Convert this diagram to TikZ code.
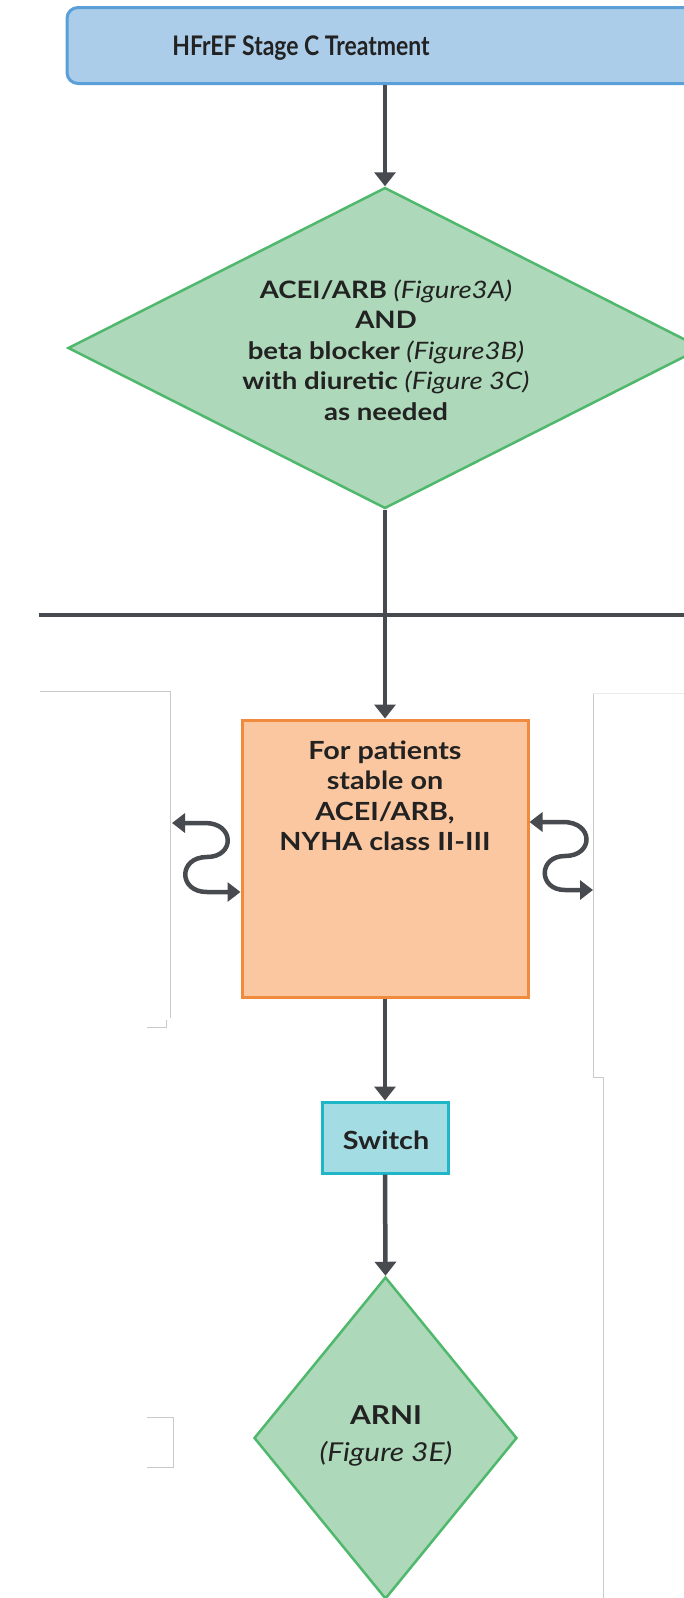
\documentclass[tikz,border=0pt]{standalone}
\usepackage{fontspec}
\setmainfont{Lato}
\newfontfamily\widefont{Lato}[FakeStretch=1.15]
\newfontfamily\titlefont{Lato}[FakeStretch=0.85]
\usetikzlibrary{arrows.meta,shapes.geometric}
\definecolor{conn}{HTML}{474A4F}
\definecolor{bluefill}{HTML}{ABCDE9}
\definecolor{blueline}{HTML}{5A9FD8}
\definecolor{greenfill}{HTML}{ADD8B9}
\definecolor{greenline}{HTML}{4FB86C}
\definecolor{orangefill}{HTML}{FBC7A0}
\definecolor{orangeline}{HTML}{F08A3C}
\definecolor{tealfill}{HTML}{A4DCE3}
\definecolor{tealline}{HTML}{1FB6C8}
\definecolor{thingray}{HTML}{CACACA}
\definecolor{txt}{HTML}{222222}
\begin{document}
\begin{tikzpicture}[x=1pt,y=-1pt,
  titlebox/.style={draw=blueline,fill=bluefill,line width=3pt,rounded corners=11pt,inner sep=0pt},
  greendiamond/.style={diamond,draw=greenline,fill=greenfill,line width=2.5pt,inner sep=0pt},
  orangebox/.style={draw=orangeline,fill=orangefill,line width=3pt,inner sep=0pt},
  tealbox/.style={draw=tealline,fill=tealfill,line width=3pt,inner sep=0pt},
  label text/.style={text=txt,align=center,inner sep=0pt,font=\widefont\fontsize{24}{30.5}\selectfont\bfseries},
  flow/.style={draw=conn,line width=4.5pt,-{Triangle[width=21pt,length=14pt]}},
  plainline/.style={draw=conn,line width=4.5pt},
  wave/.style={draw=conn,line width=4.5pt,{Triangle[width=19pt,length=13pt]}-{Triangle[width=19pt,length=13pt]}},
  guide/.style={draw=thingray,line width=1pt}
]
\useasboundingbox (0,0) rectangle (684,1598);
\clip (0,0) rectangle (684,1598);

% thin gray guide lines
\draw[guide] (40,691) -- (170,691) -- (170,1018);
\draw[guide] (147,1027) -- (166,1027) -- (166,1020);
\draw[guide] (593,693) -- (593,1077) -- (603,1077) -- (603,1600);
\draw[draw=thingray!40,line width=0.8pt] (593,693) -- (690,693);
\draw[guide] (147,1417) -- (173,1417) -- (173,1467) -- (147,1467);

% nodes
\node[titlebox,minimum width=653pt,minimum height=76pt] (title) at (393.5,45.5) {};
\node[text=txt,inner sep=0pt,font=\titlefont\fontsize{27}{30}\selectfont\bfseries] (titletext) at (301,48) {HFrEF Stage C Treatment};

\node[greendiamond,minimum width=634pt,minimum height=321pt] (d1) at (385,348) {};
\node[label text] (d1text) at (386,350) {ACEI/ARB \textit{\mdseries(Figure3A)}\\AND\\beta blocker \textit{\mdseries(Figure3B)}\\with diuretic \textit{\mdseries(Figure 3C)}\\as needed};

\node[orangebox,minimum width=286pt,minimum height=277pt] (ob) at (385,858.5) {};
\node[label text,font=\widefont\fontsize{25}{30.5}\selectfont\bfseries] (obtext) at (385,796) {For patients\\stable on\\ACEI/ARB,\\NYHA class II-III};

\node[tealbox,minimum width=126pt,minimum height=71pt] (sw) at (385,1137.5) {};
\node[label text,font=\widefont\fontsize{25}{30}\selectfont\bfseries] (swtext) at (386,1140) {Switch};

\node[greendiamond,minimum width=263pt,minimum height=322pt] (arni) at (385.5,1438) {};
\node[label text,font=\widefont\fontsize{26}{37}\selectfont\bfseries] (arnitext) at (386,1436) {ARNI\\\textit{\mdseries(Figure 3E)}};

% horizontal bar
\coordinate (hl) at (39,615);
\coordinate (hr) at (690,615);
\draw[plainline] (hl) -- (hr);

% connectors
\draw[flow] (d1.north |- title.south) -- (d1.north);
\draw[flow] (d1.south) -- (ob.north);
\draw[flow] (ob.south) -- (sw.north);
\draw[flow] (sw.south) -- (arni.north);

% wavy two-headed arrows
\coordinate (lw) at (172,823);
\draw[wave] (lw) -- (205,823) .. controls (235,823) and (235,857) .. (207,857)
  .. controls (178,857) and (178,892) .. (207,892) -- (ob.west |- 0,892);
\coordinate (rw) at (593,890);
\draw[wave] (ob.east |- 0,822) -- (563,822) .. controls (594,822) and (594,856) .. (565,856)
  .. controls (538,856) and (538,890) .. (565,890) -- (rw);
\end{tikzpicture}
\end{document}
